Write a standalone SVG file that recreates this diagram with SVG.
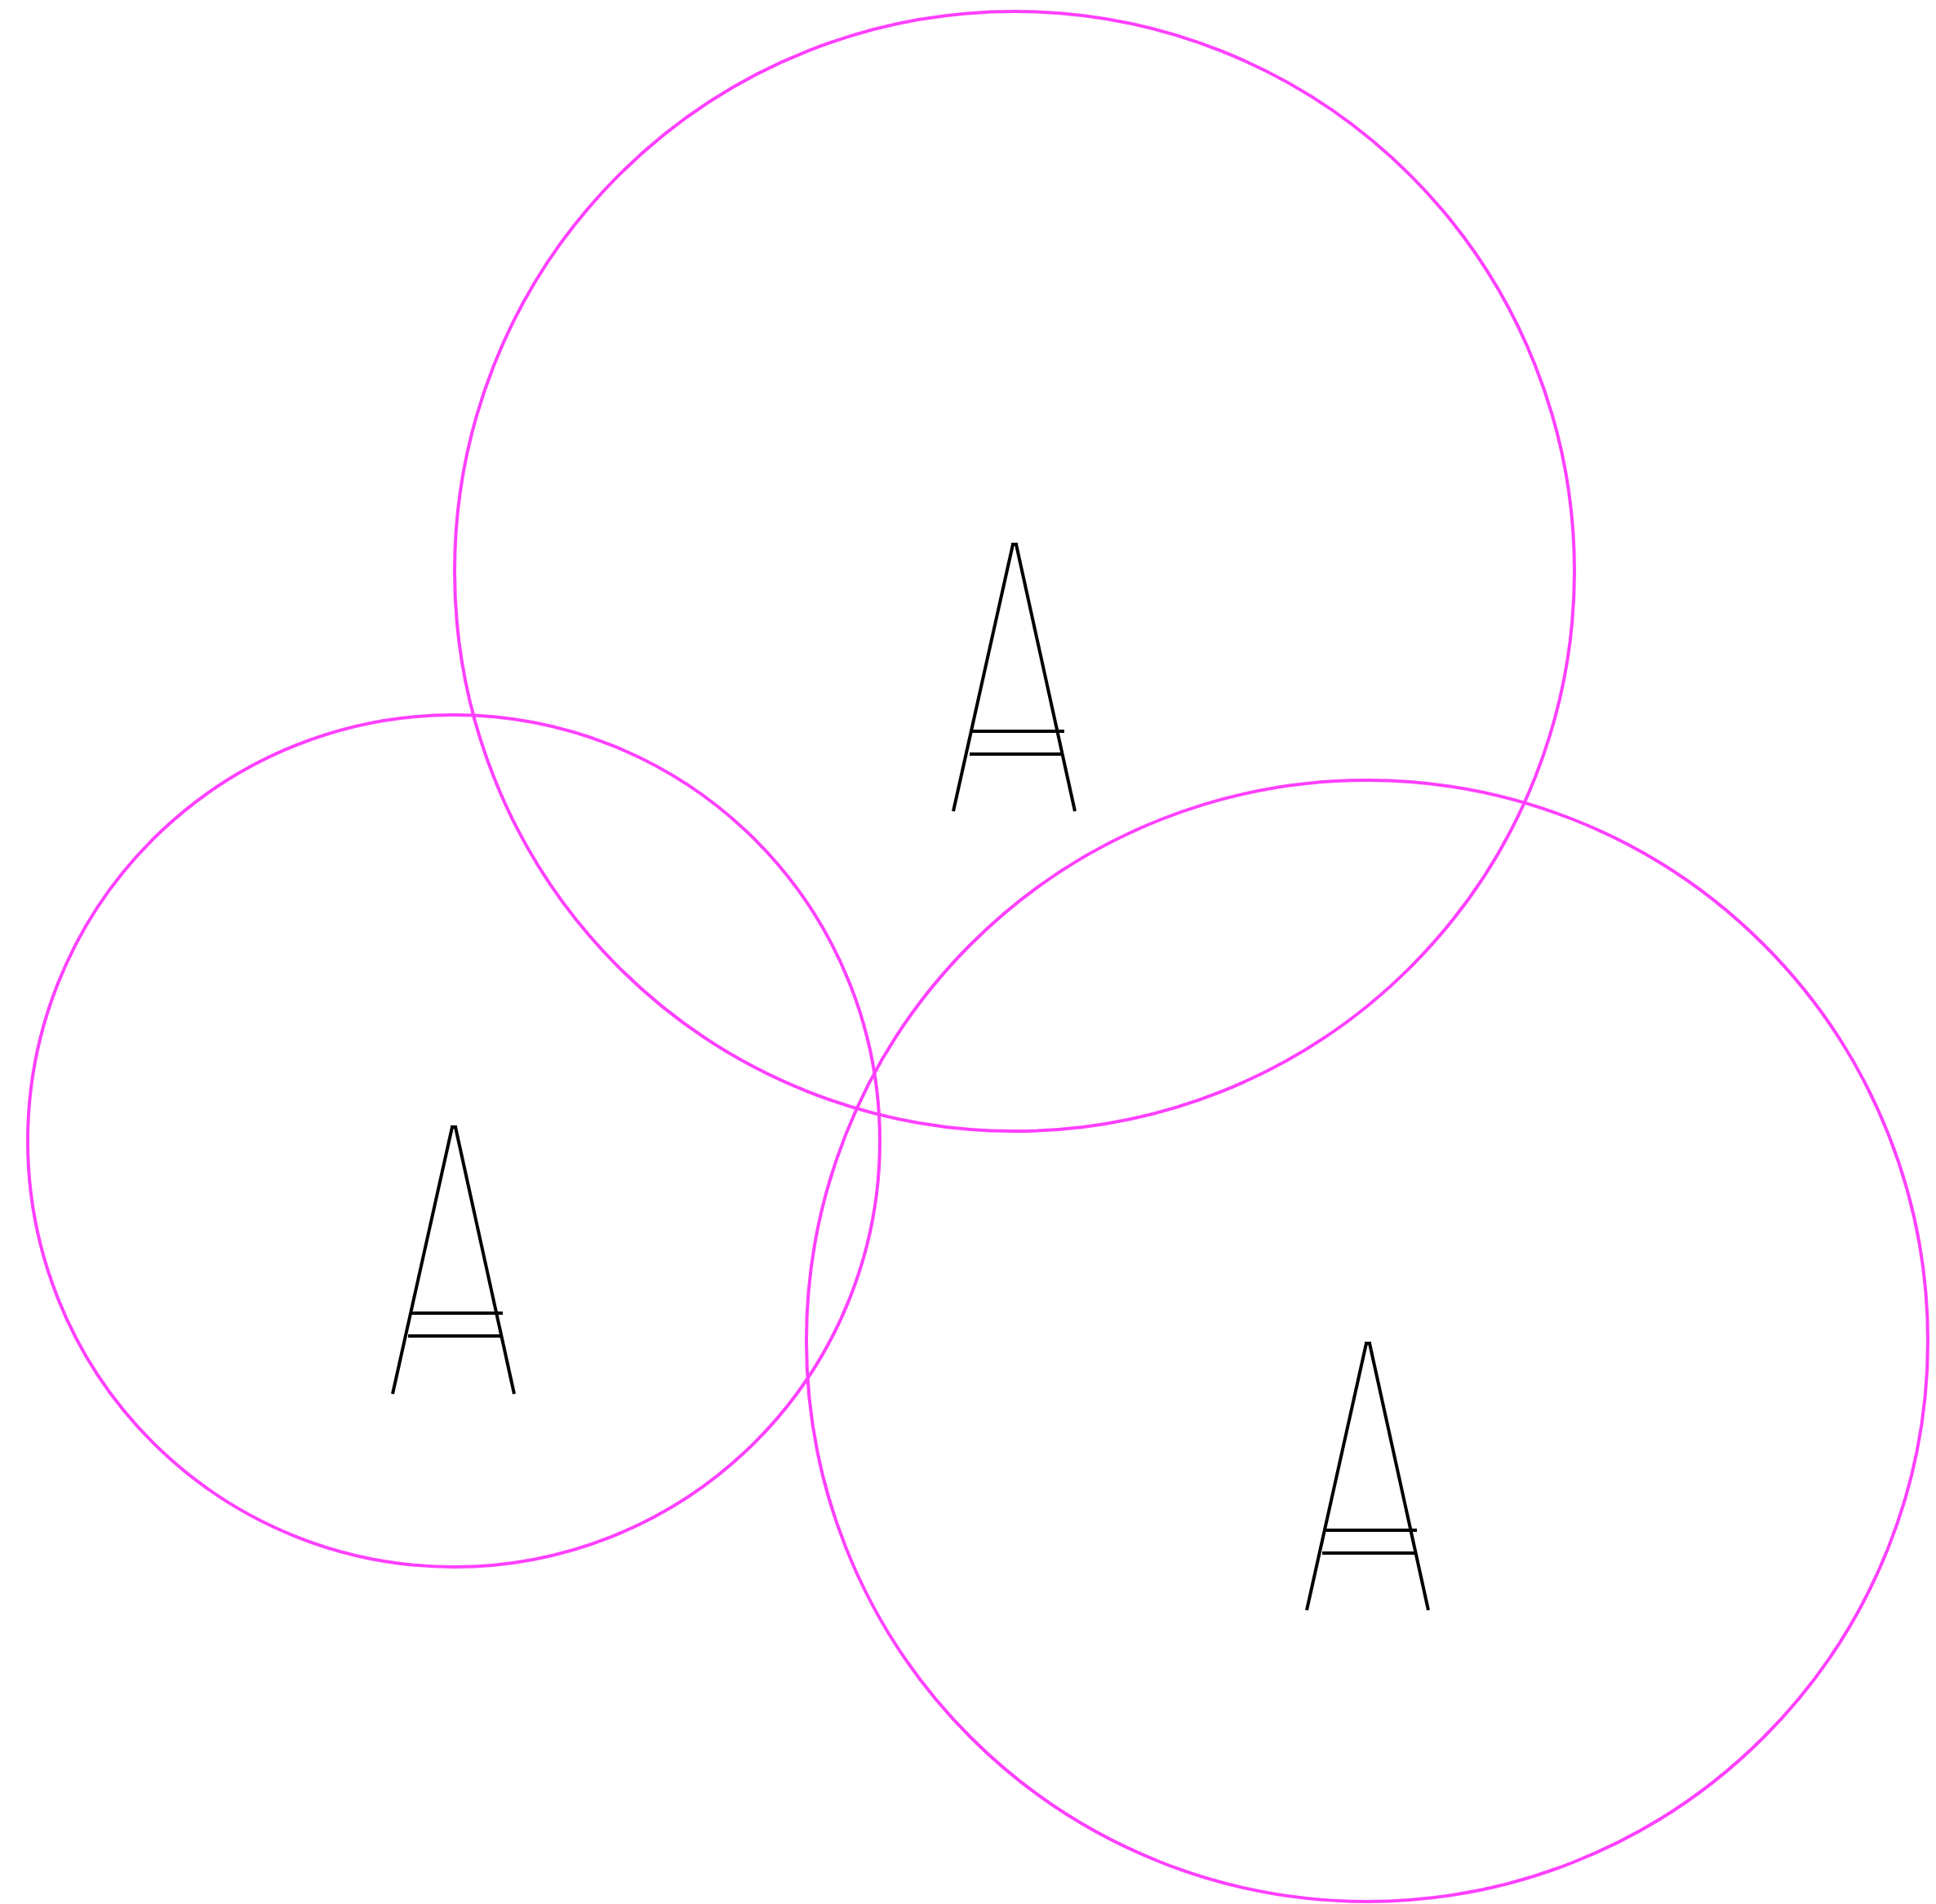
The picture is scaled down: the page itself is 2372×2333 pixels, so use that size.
<svg xmlns="http://www.w3.org/2000/svg" width="2372" height="2333" viewBox="0 0 2372 2333">
<style>
.c{fill:none;stroke:#ff40ff;stroke-width:4}
.g{fill:none;stroke:#000;stroke-width:4}
</style>
<rect width="2372" height="2333" fill="#fff"/>
<g id="circle-top"><circle class="c" cx="1243" cy="700" r="686"/></g>
<g id="circle-left"><circle class="c" cx="556" cy="1398" r="522"/></g>
<g id="circle-right"><circle class="c" cx="1675" cy="1643" r="687"/></g>
<g id="mark-top" class="g">
<line x1="1241" y1="667" x2="1168" y2="994"/>
<line x1="1245" y1="667" x2="1317" y2="994"/>
<line x1="1239" y1="667" x2="1247" y2="667"/>
<line x1="1191" y1="896" x2="1304" y2="896"/>
<line x1="1188" y1="924" x2="1300" y2="924"/>
</g>
<g id="mark-left" class="g">
<line x1="554" y1="1381" x2="481" y2="1708"/>
<line x1="558" y1="1381" x2="630" y2="1708"/>
<line x1="552" y1="1381" x2="560" y2="1381"/>
<line x1="503" y1="1609" x2="616" y2="1609"/>
<line x1="500" y1="1637" x2="613" y2="1637"/>
</g>
<g id="mark-right" class="g">
<line x1="1674" y1="1646" x2="1601" y2="1973"/>
<line x1="1678" y1="1646" x2="1750" y2="1973"/>
<line x1="1672" y1="1646" x2="1680" y2="1646"/>
<line x1="1623" y1="1875" x2="1736" y2="1875"/>
<line x1="1620" y1="1903" x2="1733" y2="1903"/>
</g>
<g id="connectors"/>
</svg>
